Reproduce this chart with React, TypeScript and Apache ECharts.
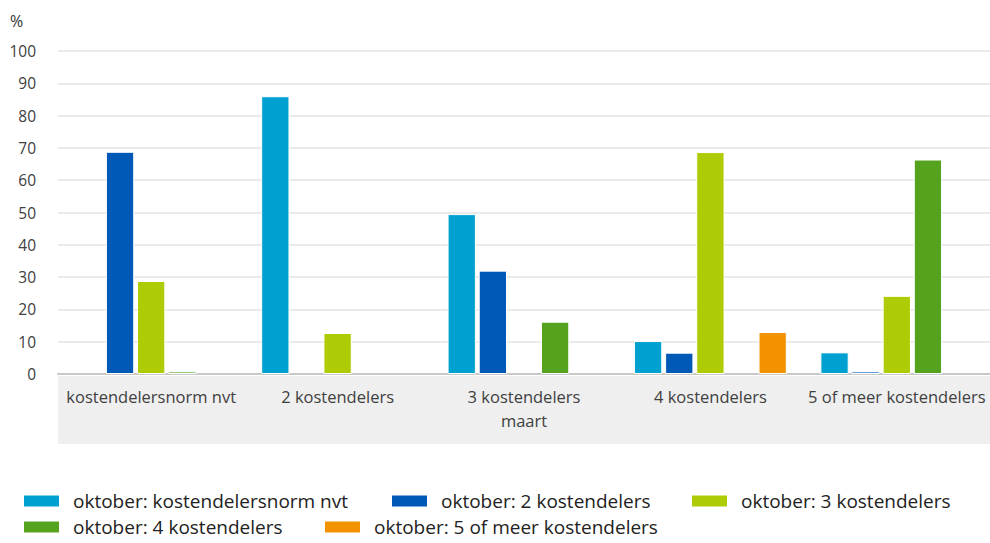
import React, { useEffect, useRef } from "react";
import * as echarts from "echarts";

const categories = [
  "kostendelersnorm nvt",
  "2 kostendelers",
  "3 kostendelers",
  "4 kostendelers",
  "5 of meer kostendelers",
];
const seriesNames = [
  "oktober: kostendelersnorm nvt",
  "oktober: 2 kostendelers",
  "oktober: 3 kostendelers",
  "oktober: 4 kostendelers",
  "oktober: 5 of meer kostendelers",
];
const valsNvt = [null, 86, 49.5, 10.2, 6.7];
const vals2 = [68.8, null, 32, 6.6, 0.8];
const vals3 = [28.8, 12.7, null, 68.7, 24.2];
const vals4 = [0.8, null, 16.2, null, 66.4];
const vals5 = [null, null, null, 13, null];
const colors = ["#00A1D0", "#0059B6", "#AFCB05", "#55A21F", "#F39200"];
const xAxisTitle = "maart";
const yAxisTitle = "%";

const FONT = "Open Sans";

export default function App() {
  const ref = useRef<HTMLDivElement>(null);
  useEffect(() => {
    document.body.style.margin = "0";
    const chart = echarts.init(ref.current!, undefined, { renderer: "svg" });
    const all = [valsNvt, vals2, vals3, vals4, vals5];
    const gridLeft = 58;
    const gridTop = 51;
    const gridBottom = 169;
    const legendPos = [
      [22, 491],
      [390, 491],
      [690, 491],
      [22, 517],
      [323, 517],
    ];
    chart.setOption({
      animation: false,
      textStyle: { fontFamily: FONT },
      title: {
        text: yAxisTitle,
        left: 10,
        top: 13,
        padding: 0,
        textStyle: { fontSize: 16, fontWeight: "normal", color: "#333", fontFamily: FONT },
      },
      graphic: [
        {
          type: "rect",
          left: gridLeft,
          top: 376,
          shape: { width: 990 - gridLeft, height: 68 },
          style: { fill: "#EFEFEF" },
          z: -1,
        },
      ],
      legend: seriesNames.map((n, i) => ({
        data: [n],
        left: legendPos[i][0],
        top: legendPos[i][1],
        padding: 0,
        itemWidth: 37,
        itemHeight: 13,
        icon: "rect",
        textStyle: {
          fontSize: 19,
          lineHeight: 20,
          color: "#222",
          fontFamily: FONT,
          padding: [0, 0, 0, 8],
        },
      })),
      grid: { left: gridLeft, right: 0, top: gridTop, bottom: gridBottom, containLabel: false },
      xAxis: {
        type: "category",
        data: categories,
        name: xAxisTitle,
        nameLocation: "middle",
        nameGap: 38,
        nameTextStyle: { fontSize: 16.5, color: "#404040", fontFamily: FONT },
        axisLine: { lineStyle: { color: "#C8C8C8", width: 2 } },
        axisTick: { show: false },
        axisLabel: { fontSize: 16.5, color: "#404040", margin: 14, interval: 0, fontFamily: FONT },
      },
      yAxis: {
        type: "value",
        min: 0,
        max: 100,
        interval: 10,
        axisLine: { show: false },
        axisTick: { show: false },
        axisLabel: { fontSize: 15.5, color: "#404040", margin: 22, fontFamily: FONT },
        splitLine: { lineStyle: { color: "#E3E3E3", width: 1.5 } },
      },
      series: seriesNames.map((n, i) => ({
        name: n,
        type: "bar",
        data: all[i],
        barCategoryGap: "18%",
        barGap: "10%",
        itemStyle: { color: colors[i], borderColor: "#fff", borderWidth: 1 },
      })),
    });
    return () => chart.dispose();
  }, []);
  return <div ref={ref} style={{ width: 990, height: 543 }} />;
}
